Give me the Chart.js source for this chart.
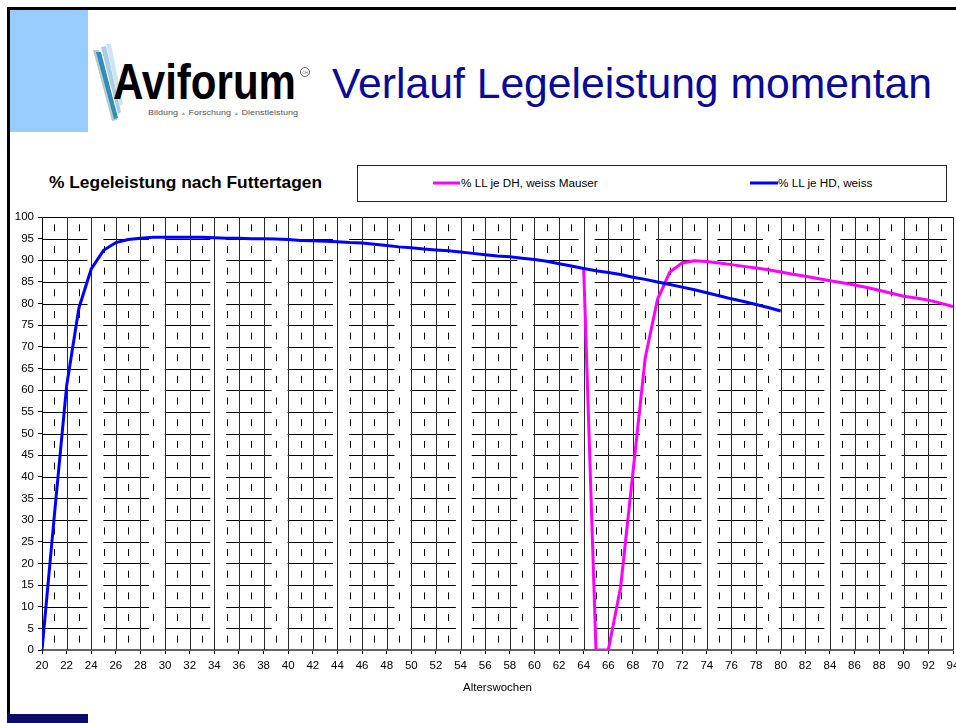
<!DOCTYPE html>
<html>
<head>
<meta charset="utf-8">
<script src="https://cdn.jsdelivr.net/npm/chart.js@4.4.1/dist/chart.umd.min.js"></script>
<style>
  html, body { margin:0; padding:0; background:#fff; overflow:hidden; }
  body { width:956px; height:723px; position:relative; font-family:"Liberation Sans", Arial, sans-serif; }
  #chart { position:absolute; left:0; top:150px; }
  #deco { position:absolute; left:0; top:0; }
</style>
</head>
<body>
<svg id="deco" width="956" height="723" xmlns="http://www.w3.org/2000/svg">
  <rect x="7" y="7" width="949" height="3" fill="#000"/>
  <rect x="7" y="7" width="3" height="707" fill="#000"/>
  <rect x="10" y="10" width="78" height="122" fill="#99ccff"/>
  <rect x="7" y="714" width="81" height="9" fill="#0c0c66"/>
  <!-- logo stripes -->
  <polygon points="93,50 99,50 117,120 112,121" fill="#b8c8d4"/>
  <polygon points="96,52 101,52 118,118 114,119" fill="#2f8fb5"/>
  <polygon points="101,47 106,46 121,112 118,114" fill="#a9cde6"/>
  <polygon points="106,44 111,44 123,104 120,106" fill="#cfe3f1"/>
  <text x="113" y="99" font-family="Liberation Sans, Arial" font-weight="bold" font-size="50" textLength="183" lengthAdjust="spacingAndGlyphs" fill="#000">Aviforum</text>
  <circle cx="305" cy="72" r="4.5" fill="none" stroke="#666" stroke-width="1"/>
  <text x="305" y="73.5" font-family="Liberation Sans, Arial" font-size="4" text-anchor="middle" fill="#666">CH</text>
  <text x="148" y="115" font-family="Liberation Sans, Arial" font-size="8" textLength="150" lengthAdjust="spacingAndGlyphs" fill="#555">Bildung <tspan fill="#aaa" font-size="5">▲</tspan> Forschung <tspan fill="#aaa" font-size="5">▲</tspan> Dienstleistung</text>
  <text x="332" y="98" font-family="Liberation Sans, Arial" font-size="42.5" textLength="600" lengthAdjust="spacingAndGlyphs" fill="#0a0a99">Verlauf Legeleistung momentan</text>
  <text x="49" y="187.5" font-family="Liberation Sans, Arial" font-weight="bold" font-size="16.5" textLength="273" lengthAdjust="spacingAndGlyphs" fill="#000">% Legeleistung nach Futtertagen</text>
  <rect x="357.5" y="165.5" width="589" height="36" fill="none" stroke="#222" stroke-width="1"/>
  <line x1="433" y1="183" x2="460" y2="183" stroke="#ff00ff" stroke-width="3"/>
  <text x="461" y="187" font-family="Liberation Sans, Arial" font-size="11.7" fill="#000">% LL je DH, weiss Mauser</text>
  <line x1="750" y1="183" x2="778" y2="183" stroke="#0000ff" stroke-width="3"/>
  <text x="778" y="187" font-family="Liberation Sans, Arial" font-size="11.7" fill="#000">% LL je HD, weiss</text>
</svg>
<canvas id="chart" width="956" height="573"></canvas>
<script>
// ---- data ----
const weeks = [20,21,22,23,24,25,26,27,28,29,30,31,32,33,34,35,36,37,38,39,40,41,42,43,44,45,46,47,48,49,50,51,52,53,54,55,56,57,58,59,60,61,62,63,64,65,66,67,68,69,70,71,72,73,74,75,76,77,78,79,80,81,82,83,84,85,86,87,88,89,90,91,92,93,94];
const hdWeiss = [0,31,61,79,88,92.3,94.1,94.8,95.1,95.3,95.3,95.3,95.3,95.3,95.2,95.1,95.1,95.0,95.0,94.9,94.8,94.6,94.5,94.4,94.3,94.1,94.0,93.7,93.4,93.1,92.9,92.6,92.4,92.2,91.9,91.6,91.3,91.0,90.8,90.5,90.2,89.8,89.2,88.7,88.1,87.6,87.2,86.7,86.1,85.6,85.0,84.4,83.8,83.2,82.5,81.8,81.1,80.5,79.8,79.1,78.3,null,null,null,null,null,null,null,null,null,null,null,null,null,null];
const dhMauser = [null,null,null,null,null,null,null,null,null,null,null,null,null,null,null,null,null,null,null,null,null,null,null,null,null,null,null,null,null,null,null,null,null,null,null,null,null,null,null,null,null,null,null,null,88.1,0,0,14.5,41,67.5,81,87.3,89.4,89.9,89.7,89.4,89.0,88.6,88.2,87.8,87.3,86.8,86.3,85.8,85.3,84.8,84.3,83.7,83.1,82.4,81.7,81.3,80.8,80.1,79.3];
const seriesNames = ['% LL je HD, weiss', '% LL je DH, weiss Mauser'];
const xTitle = 'Alterswochen';

const FONT = '"Liberation Sans", Arial, sans-serif';

const gridPlugin = {
  id: 'refGrid',
  beforeDatasetsDraw(chart) {
    const {ctx, chartArea: a, scales: {x, y}} = chart;
    ctx.save();
    ctx.lineWidth = 1;
    // horizontal (segmented) lines every 5
    ctx.strokeStyle = '#000';
    ctx.setLineDash([45.5, 15.9]);
    for (let v = 5; v < 100; v += 5) {
      const py = Math.round(y.getPixelForValue(v)) + 0.5;
      ctx.beginPath(); ctx.moveTo(a.left, py); ctx.lineTo(a.right, py); ctx.stroke();
    }
    ctx.setLineDash([]);
    // top line
    const pt = Math.round(y.getPixelForValue(100)) + 0.5;
    ctx.beginPath(); ctx.moveTo(a.left, pt); ctx.lineTo(a.right, pt); ctx.stroke();
    // vertical solid lines at even weeks
    ctx.strokeStyle = '#2a2a2a';
    for (let w = 22; w <= 94; w += 2) {
      const px = Math.round(x.getPixelForValue(w)) + 0.5;
      ctx.beginPath(); ctx.moveTo(px, a.top); ctx.lineTo(px, a.bottom); ctx.stroke();
    }
    // dashed marks at odd weeks, centred between horizontal lines
    ctx.strokeStyle = '#000';
    for (let w = 21; w < 94; w += 2) {
      const px = Math.round(x.getPixelForValue(w)) + 0.5;
      for (let v = 0; v < 100; v += 5) {
        const pm = y.getPixelForValue(v + 2.5);
        ctx.beginPath(); ctx.moveTo(px, pm - 3.5); ctx.lineTo(px, pm + 3.5); ctx.stroke();
      }
    }
    ctx.restore();
  }
};

new Chart(document.getElementById('chart'), {
  type: 'line',
  data: {
    datasets: [
      {
        label: seriesNames[0],
        data: weeks.map((w, i) => ({x: w, y: hdWeiss[i]})),
        borderColor: '#0000ff', backgroundColor: '#0000ff',
        borderWidth: 3, pointRadius: 0, tension: 0, spanGaps: false
      },
      {
        label: seriesNames[1],
        data: weeks.map((w, i) => ({x: w, y: dhMauser[i]})),
        borderColor: '#ff00ff', backgroundColor: '#ff00ff',
        borderWidth: 3, pointRadius: 0, tension: 0, spanGaps: false
      }
    ]
  },
  options: {
    responsive: false,
    animation: false,
    devicePixelRatio: 1,
    layout: { padding: { left: 0, right: 3, top: 67, bottom: 0 } },
    plugins: { legend: { display: false }, title: { display: false }, tooltip: { enabled: false } },
    scales: {
      x: {
        type: 'linear', min: 20, max: 94,
        afterFit(s) { s.height = 73; s.paddingRight = 0; s.paddingLeft = 0; },
        ticks: { stepSize: 2, autoSkip: false, maxRotation: 0, padding: 5, color: '#000', font: { family: FONT, size: 11.5 } },
        grid: { display: true, drawOnChartArea: false, drawTicks: true, tickLength: 4, color: '#000' },
        border: { display: true, color: '#666', width: 2 },
        title: { display: true, text: xTitle, color: '#000', font: { family: FONT, size: 11.5 }, padding: { top: 0, bottom: 28 } }
      },
      y: {
        min: 0, max: 100,
        afterFit(s) { s.width = 42; },
        ticks: { stepSize: 5, padding: 4, color: '#000', font: { family: FONT, size: 11.5 } },
        grid: { display: true, drawOnChartArea: false, drawTicks: true, tickLength: 4, color: '#000' },
        border: { display: true, color: '#000', width: 1 }
      }
    }
  },
  plugins: [gridPlugin]
});
</script>
</body>
</html>
